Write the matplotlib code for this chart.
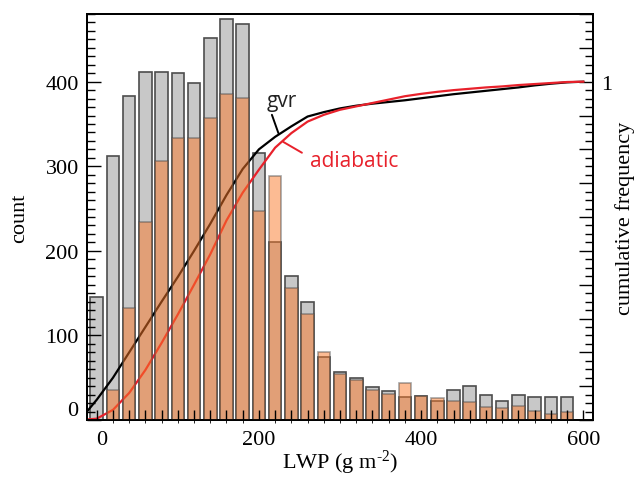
import matplotlib
matplotlib.use('Agg')
import matplotlib.pyplot as plt
import matplotlib.transforms as mtransforms
import numpy as np

# histogram bins (LWP, g m-2) and counts
lwp_bins = list(range(0, 600, 20))
gvr_counts = [146, 312, 383, 411, 412, 410, 398, 452, 474, 468,
              316, 211, 170, 140, 74, 57, 50, 39, 34, 27,
              28, 23, 36, 40, 29, 23, 30, 27, 27, 27]
adiabatic_counts = [0, 35, 132, 234, 306, 334, 333, 357, 386, 381,
                    247, 288, 156, 125, 81, 54, 47, 36, 31, 44,
                    28, 26, 23, 21, 15, 14, 16, 11, 7, 10]

# cumulative frequency curves
lwp_cum = list(range(-20, 620, 20))
gvr_cum = [0.002, 0.06, 0.125, 0.2, 0.275, 0.35, 0.423, 0.5, 0.58, 0.665,
           0.742, 0.80, 0.837, 0.868, 0.897, 0.91, 0.921, 0.929, 0.935, 0.94,
           0.945, 0.951, 0.957, 0.963, 0.968, 0.973, 0.978, 0.983, 0.989, 0.994,
           0.998, 1.0]
adiabatic_cum = [0.0, 0.004, 0.03, 0.08, 0.148, 0.228, 0.312, 0.4, 0.49, 0.59,
                 0.672, 0.74, 0.805, 0.848, 0.882, 0.902, 0.917, 0.927, 0.937, 0.947,
                 0.957, 0.964, 0.97, 0.975, 0.979, 0.983, 0.986, 0.99, 0.993, 0.996,
                 0.999, 1.0]

plt.rcParams['font.family'] = ['Liberation Serif', 'DejaVu Serif']
plt.rcParams['mathtext.default'] = 'regular'
plt.rcParams['axes.linewidth'] = 1.2

fig = plt.figure(figsize=(6.38, 4.81), dpi=100)
ax = fig.add_axes([0.1364, 0.1247, 0.7931, 0.8441])
ax2 = ax.twinx()   # cumulative lines
ax3 = ax.twinx()   # adiabatic bars, over the lines

red = '#e8212b'

ax.bar(lwp_bins, gvr_counts, width=15.5, color='#c8c8c8',
       edgecolor='#4d4d4d', linewidth=1.2)
ax2.plot(lwp_cum, gvr_cum, color='black', lw=1.6)
ax2.plot(lwp_cum, adiabatic_cum, color=red, lw=1.6)
ax3.bar(lwp_bins, adiabatic_counts, width=15.5, color='#fa7828', alpha=0.5,
        edgecolor='#4d4d4d', linewidth=1.2)

ax.set_xlim(-12, 612)
ax.set_ylim(0, 480)
ax3.set_ylim(0, 480)
ax2.set_ylim(0, 1.2)

# x axis drawn by ax3 so the ticks sit on top of the bars
ax.tick_params(axis='x', bottom=False, labelbottom=False)
ax3.xaxis.set_visible(True)
ax3.set_xticks([0, 200, 400, 600])
ax3.set_xticks(np.arange(0, 601, 20), minor=True)
ax3.tick_params(axis='x', which='both', direction='in', length=7, width=1,
                top=False, labelsize=16, pad=7)
ax3.tick_params(axis='y', which='both', right=False, labelright=False)

ax.set_yticks([0, 100, 200, 300, 400])
ax.set_yticks(np.arange(0, 481, 10), minor=True)
ax.tick_params(axis='y', which='major', direction='in', length=10, width=1,
               labelsize=16, pad=6)
ax.tick_params(axis='y', which='minor', direction='in', length=6, width=1)

ax2.set_yticks(np.arange(0, 1.21, 0.1))
ax2.set_yticklabels(['' if abs(t - 1) > 1e-6 else '1' for t in np.arange(0, 1.21, 0.1)])
ax2.set_yticks(np.arange(0, 1.21, 0.025), minor=True)
ax2.tick_params(axis='y', which='major', direction='in', length=10, width=1,
                labelsize=16, pad=6)
ax2.tick_params(axis='y', which='minor', direction='in', length=6, width=1)

# nudge the zero labels like the original
fig.canvas.draw()
ylab0 = ax.get_yticklabels()[0]
ylab0.set_transform(ylab0.get_transform() +
                    mtransforms.ScaledTranslation(0, 0.12, fig.dpi_scale_trans))
xlab0 = ax3.get_xticklabels()[0]
xlab0.set_transform(xlab0.get_transform() +
                    mtransforms.ScaledTranslation(0.05, 0, fig.dpi_scale_trans))

ax.set_ylabel('count', fontsize=16)
ax.yaxis.set_label_coords(-0.115, 0.5)
ax3.set_xlabel('LWP (g m$^{\u20102}$)', fontsize=16)
ax3.xaxis.set_label_coords(0.5, -0.068)
ax2.set_ylabel('cumulative frequency', fontsize=16)
ax2.yaxis.set_label_coords(1.044, 0.5)

sans = ['Open Sans', 'DejaVu Sans']
ax2.annotate('', xy=(224, 0.848), xytext=(216, 0.902),
             arrowprops=dict(arrowstyle='-', color='black', lw=1.4,
                             shrinkA=0, shrinkB=0))
ax2.text(210, 0.928, 'gvr', family=sans, fontsize=15, color='#222222')
ax2.annotate('', xy=(230, 0.822), xytext=(253, 0.79),
             arrowprops=dict(arrowstyle='-', color=red, lw=1.4,
                             shrinkA=0, shrinkB=0))
ax2.text(263, 0.751, 'adiabatic', family=sans, fontsize=15, color=red)

fig.savefig('out.png', dpi=100)
